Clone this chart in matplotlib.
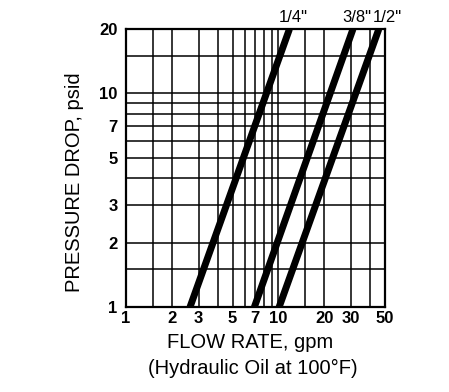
import numpy as np
import matplotlib.pyplot as plt
from matplotlib.ticker import FixedLocator, NullFormatter

plt.rcParams['font.family'] = ['Liberation Sans', 'DejaVu Sans']

# line sizes and the flow (gpm) read at 1 psid and at 20 psid
sizes = ['1/4"', '3/8"', '1/2"']
flow_at_1 = [2.63, 6.95, 10.1]
flow_at_20 = [11.8, 30.8, 45.5]
pressure_ends = [1, 20]

x_grid = [1.5, 2, 3, 4, 5, 6, 7, 8, 9, 10, 15, 20, 30, 40]
y_grid = [1.5, 2, 3, 4, 5, 6, 7, 8, 9, 10, 15]
x_ticks = [1, 2, 3, 5, 7, 10, 20, 30, 50]
y_ticks = [1, 2, 3, 5, 7, 10, 20]

fig = plt.figure(figsize=(4.49, 3.92), dpi=100)
ax = fig.add_axes([0.2806, 0.2168, 0.577, 0.709])
ax.set_xscale('log')
ax.set_yscale('log')
ax.set_xlim(1, 50)
ax.set_ylim(1, 20)

for xv in x_grid:
    ax.axvline(xv, color='black', lw=1.1, zorder=1)
for yv in y_grid:
    ax.axhline(yv, color='black', lw=1.1, zorder=1)

label_dx = [3, 3, 6]
for name, q1, q20, dx in zip(sizes, flow_at_1, flow_at_20, label_dx):
    ax.plot([q1, q20], pressure_ends, color='black', lw=5, solid_capstyle='butt', zorder=3)
    ax.annotate(name, (q20, 20), xytext=(dx, 3), textcoords='offset points',
                ha='center', va='bottom', fontsize=12, annotation_clip=False)

ax.xaxis.set_major_locator(FixedLocator(x_ticks))
ax.yaxis.set_major_locator(FixedLocator(y_ticks))
ax.xaxis.set_minor_formatter(NullFormatter())
ax.yaxis.set_minor_formatter(NullFormatter())
ax.set_xticklabels([str(v) for v in x_ticks], fontsize=12, fontweight='bold')
ax.set_yticklabels([str(v) for v in y_ticks], fontsize=12, fontweight='bold')
ax.tick_params(which='both', length=0)
ax.tick_params(axis='x', pad=3)
ax.tick_params(axis='y', pad=6)

for s in ax.spines.values():
    s.set_linewidth(1.6)

fig.text(0.556, 0.125, 'FLOW RATE, gpm', ha='center', va='center', fontsize=14.5)
fig.text(0.562, 0.061, '(Hydraulic Oil at 100°F)', ha='center', va='center', fontsize=14.5)
fig.text(0.167, 0.536, 'PRESSURE DROP, psid', ha='center', va='center', rotation=90, fontsize=14.5)

fig.savefig('out.png', dpi=100)
